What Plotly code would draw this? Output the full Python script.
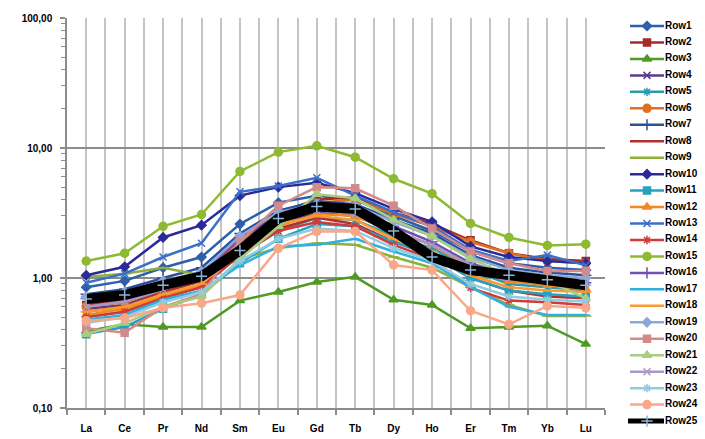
import plotly.graph_objects as go

# Chondrite-normalised REE patterns
elements = ["La", "Ce", "Pr", "Nd", "Sm", "Eu", "Gd", "Tb", "Dy", "Ho", "Er", "Tm", "Yb", "Lu"]

row1 = [0.85, 0.95, 1.20, 1.45, 2.60, 3.80, 4.30, 4.00, 3.00, 2.30, 1.60, 1.30, 1.20, 1.15]
row2 = [0.62, 0.68, 0.85, 1.05, 2.00, 3.20, 4.00, 4.20, 3.20, 2.60, 1.95, 1.55, 1.40, 1.35]
row3 = [0.39, 0.44, 0.42, 0.42, 0.67, 0.78, 0.93, 1.02, 0.68, 0.62, 0.41, 0.42, 0.43, 0.31]
row4 = [0.58, 0.62, 0.78, 0.95, 1.70, 2.60, 3.20, 3.00, 2.30, 1.80, 1.20, 0.95, 0.90, 0.85]
row5 = [0.50, 0.55, 0.70, 0.85, 1.50, 2.30, 2.90, 2.80, 2.10, 1.70, 1.15, 0.90, 0.85, 0.80]
row6 = [0.60, 0.65, 0.82, 1.00, 1.90, 3.00, 3.80, 4.00, 3.10, 2.50, 1.90, 1.55, 1.35, 1.30]
row7 = [0.75, 0.82, 1.00, 1.20, 2.20, 3.30, 3.90, 3.70, 2.80, 2.20, 1.50, 1.20, 1.10, 1.05]
row8 = [0.55, 0.60, 0.78, 0.95, 1.60, 2.40, 2.90, 2.60, 1.90, 1.50, 1.00, 0.80, 0.72, 0.70]
row9 = [1.02, 1.08, 1.20, 1.05, 1.40, 1.70, 1.85, 1.80, 1.45, 1.20, 0.85, 0.62, 0.51, 0.51]
row10 = [1.05, 1.22, 2.05, 2.55, 4.30, 5.00, 5.40, 4.50, 3.40, 2.70, 1.75, 1.45, 1.35, 1.30]
row11 = [0.37, 0.42, 0.58, 0.75, 1.30, 2.00, 2.60, 2.50, 1.90, 1.50, 1.00, 0.80, 0.75, 0.72]
row12 = [0.52, 0.58, 0.72, 0.88, 1.60, 2.50, 3.10, 3.00, 2.30, 1.80, 1.20, 0.95, 0.88, 0.82]
row13 = [0.92, 1.08, 1.45, 1.85, 4.60, 5.10, 5.90, 4.30, 3.20, 2.50, 1.65, 1.35, 1.50, 1.25]
row14 = [0.50, 0.55, 0.70, 0.85, 1.50, 2.30, 2.70, 2.50, 1.80, 1.40, 0.84, 0.67, 0.65, 0.62]
row15 = [1.35, 1.55, 2.50, 3.08, 6.60, 9.30, 10.40, 8.50, 5.80, 4.45, 2.63, 2.05, 1.78, 1.82]
row16 = [0.70, 0.75, 0.92, 1.10, 2.00, 3.00, 3.50, 3.30, 2.50, 1.90, 1.30, 1.05, 0.98, 0.92]
row17 = [0.48, 0.52, 0.68, 0.80, 1.25, 1.75, 1.80, 2.00, 1.60, 1.30, 0.85, 0.60, 0.52, 0.52]
row18 = [0.55, 0.60, 0.75, 0.90, 1.70, 2.60, 3.00, 2.80, 2.00, 1.60, 1.05, 0.85, 0.80, 0.78]
row19 = [0.72, 0.78, 0.95, 1.12, 2.10, 3.20, 3.70, 3.60, 2.70, 2.10, 1.45, 1.15, 1.05, 1.00]
row20 = [0.41, 0.38, 0.60, 0.75, 1.90, 3.60, 5.00, 4.90, 3.60, 2.40, 1.60, 1.30, 1.13, 1.13]
row21 = [0.37, 0.45, 0.60, 0.72, 1.40, 2.50, 4.40, 4.10, 2.80, 2.10, 1.40, 1.05, 0.95, 0.70]
row22 = [0.60, 0.66, 0.82, 1.00, 1.80, 2.80, 3.30, 3.10, 2.30, 1.80, 1.25, 1.00, 0.95, 0.90]
row23 = [0.45, 0.50, 0.65, 0.78, 1.35, 2.00, 2.40, 2.30, 1.70, 1.35, 0.90, 0.72, 0.68, 0.66]
row24 = [0.47, 0.49, 0.59, 0.64, 0.74, 1.69, 2.28, 2.28, 1.26, 1.15, 0.56, 0.44, 0.61, 0.59]
row25 = [0.69, 0.74, 0.88, 1.03, 1.63, 2.87, 3.55, 3.40, 2.30, 1.45, 1.15, 1.05, 0.97, 0.88]

names = ["Row%d" % i for i in range(1, 26)]
series = [row1, row2, row3, row4, row5, row6, row7, row8, row9, row10, row11, row12, row13,
          row14, row15, row16, row17, row18, row19, row20, row21, row22, row23, row24, row25]

colors = ["#2E5FAA", "#A52A2A", "#4F9A24", "#5B3A8C", "#2A9AB0", "#E07020", "#2850A0", "#B03030",
          "#8DB03A", "#2A2A9A", "#2AA0C0", "#F08A20", "#3A70C8", "#D03A3A", "#8DBA30", "#7050B0",
          "#30B0E0", "#F89A30", "#8CA8D8", "#D48A8A", "#A8CC80", "#A898C8", "#90CCE0", "#F8A888",
          "#000000"]

# Office-style marker cycle: diamond, square, triangle, x, star, circle, plus, dash, long dash
marker_cycle = ["diamond", "square", "triangle-up", "x-thin-open", "asterisk-open", "circle",
                "cross-thin-open", "line-ew-open", "line-ew-open"]
marker_sizes = [7, 7, 8, 7, 7, 8, 8, 6, 8]

x_idx = list(range(len(elements)))
FONT = "Liberation Sans"

fig = go.Figure()

for i, (name, vals) in enumerate(zip(names, series)):
    sym = marker_cycle[i % 9]
    size = marker_sizes[i % 9]
    col = colors[i]
    is_avg = (i == 24)
    mcol = "#8CB4D8" if is_avg else col
    fig.add_trace(go.Scatter(
        x=x_idx, y=vals, name=name, mode="lines+markers",
        line=dict(color=col, width=10 if is_avg else 2.5),
        marker=dict(symbol=sym, size=size, color=mcol, line=dict(color=mcol, width=1.5)),
        showlegend=False, cliponaxis=False,
    ))

# Legend panel drawn on its own hidden axes
LX0, LX1, LXM, LXT = 630, 664, 647, 665
for i, name in enumerate(names):
    pos = i + 1
    sym = marker_cycle[i % 9]
    col = colors[i]
    is_avg = (i == 24)
    mcol = "#8CB4D8" if is_avg else col
    fig.add_trace(go.Scatter(
        x=[LX0 - (2 if is_avg else 0), LX1], y=[pos, pos], mode="lines",
        line=dict(color=col, width=5 if is_avg else 2.5),
        xaxis="x2", yaxis="y2", showlegend=False, hoverinfo="skip", cliponaxis=False,
    ))
    fig.add_trace(go.Scatter(
        x=[LXM], y=[pos], mode="markers",
        marker=dict(symbol=sym, size=marker_sizes[i % 9], color=mcol, line=dict(color=mcol, width=1.5)),
        xaxis="x2", yaxis="y2", showlegend=False, hoverinfo="skip", cliponaxis=False,
    ))
    fig.add_trace(go.Scatter(
        x=[LXT], y=[pos], mode="text", text=[name], textposition="middle right",
        textfont=dict(family=FONT, size=10, color="#000000", weight="bold"),
        xaxis="x2", yaxis="y2", showlegend=False, hoverinfo="skip", cliponaxis=False,
    ))

grid_major = "#8C8C8C"
grid_minor = "#C4C4C4"
minor_y = [m * 10 ** e for e in (-1, 0, 1) for m in range(2, 10)]

fig.update_layout(
    width=705, height=439,
    margin=dict(l=0, r=0, t=0, b=0),
    paper_bgcolor="#FFFFFF", plot_bgcolor="#FFFFFF",
    font=dict(family=FONT, size=10, color="#000000"),
    showlegend=False,
    xaxis=dict(
        domain=[67 / 705, 605 / 705], range=[-0.5, 13.5],
        tickmode="array", tickvals=x_idx, ticktext=elements,
        ticks="", showgrid=True, gridcolor=grid_minor, gridwidth=1.5,
        showline=True, linecolor=grid_major, linewidth=1.5,
        tickfont=dict(family=FONT, size=10, weight="bold"),
        ticklabelstandoff=10, zeroline=False, automargin=False,
        minor=dict(tickmode="array", tickvals=[v - 0.5 for v in range(len(elements) + 1)],
                   ticks="outside", ticklen=5, tickcolor=grid_major, tickwidth=1.5,
                   showgrid=True, gridcolor=grid_minor, gridwidth=1.5),
    ),
    yaxis=dict(
        domain=[31 / 439, 421 / 439], type="log", range=[-1, 2],
        tickmode="array", tickvals=[0.1, 1, 10, 100], ticktext=["0,10", "1,00", "10,00", "100,00"],
        ticks="outside", ticklen=5, tickcolor=grid_major, tickwidth=1.5,
        showgrid=True, gridcolor=grid_major, gridwidth=1.5,
        showline=True, linecolor=grid_major, linewidth=1.5,
        tickfont=dict(family=FONT, size=10, weight="bold"),
        ticklabelstandoff=6, zeroline=False, automargin=False,
        minor=dict(tickmode="array", tickvals=minor_y, ticks="outside", ticklen=4,
                   tickcolor=grid_major, tickwidth=1, showgrid=False),
    ),
    xaxis2=dict(domain=[606 / 705, 1.0], range=[606, 705], visible=False, fixedrange=True),
    yaxis2=dict(domain=[0, 1], range=[26.09, -0.58], visible=False, fixedrange=True),
)

fig.write_html("out.html")
